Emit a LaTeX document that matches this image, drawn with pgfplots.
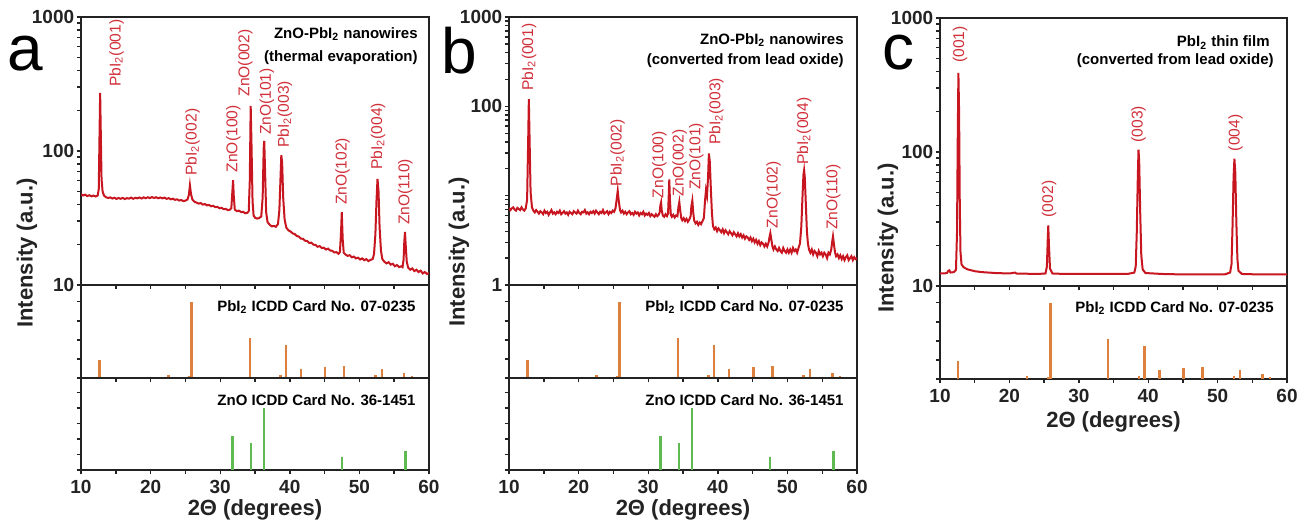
\documentclass[border=0pt]{standalone}
\usepackage{fontspec}
\setmainfont{Liberation Sans}
\usepackage{pgfplots}
\pgfplotsset{compat=1.18}

\definecolor{xrdred}{RGB}{200,22,32}
\definecolor{lblred}{RGB}{208,48,58}
\definecolor{pbiorange}{RGB}{222,128,62}
\definecolor{znogreen}{RGB}{96,186,82}
\definecolor{axgray}{RGB}{35,35,35}

\newcommand{\tk}{\fontsize{9.5}{10}\selectfont\bfseries}
\newcommand{\ann}{\fontsize{7.5}{9}\selectfont\bfseries}
\newcommand{\axlab}{\fontsize{11}{12}\selectfont\bfseries}

\pgfplotsset{
  xrdbase/.style={
    scale only axis, anchor=north west, xmin=10, xmax=60,
    xtick={10,20,...,60}, minor x tick num=1, xticklabels={},
    tick align=outside, xtick pos=left, ytick pos=left,
    axis line style={line width=0.8pt, axgray},
    tick style={line width=0.7pt, axgray},
    major tick length=2.2pt, minor tick length=1.8pt,
    ticklabel style={font=\tk, text=axgray},
    /pgf/number format/assume math mode=true,
    yticklabel style={inner sep=1pt},
    xticklabel style={inner sep=2.5pt},
    clip mode=individual,
  },
  xrdstick/.style={xrdbase, ymin=0, yticklabels={}},
}
\tikzset{
  pk/.style={rotate=90, anchor=west, inner sep=0pt, text=lblred,
    font=\fontsize{7.8}{8}\selectfont},
  letter/.style={anchor=base west, inner sep=0pt, font=\fontsize{32}{32}\selectfont},
}

\begin{document}
\begin{tikzpicture}[x=1pt,y=1pt]
\useasboundingbox (0,0) rectangle (652,-262.5);

% ---------------- panel a ----------------
\begin{axis}[xrdbase, ymode=log, at={(40.5pt,-8.5pt)}, width=174pt, height=134pt,
  ymin=10, ymax=1000, ytick={10,100,1000}, yticklabels={10,100,1000},
  minor ytick={20,30,40,50,60,70,80,90,200,300,400,500,600,700,800,900}]
\addplot[xrdred, line width=1pt] coordinates {
(10.0,47.5) (10.3,46.6) (10.6,47.2) (10.9,46.1) (11.2,46.8) (11.5,45.9) (11.8,46.5) (12.1,45.8) (12.4,46.6)
(12.55,52) (12.65,120) (12.75,271) (12.85,130) (12.95,62) (13.1,50) (13.3,46.5) (13.6,45.2) (13.9,44.6)
(14.2,45.1) (14.5,44.2) (14.8,44.8) (15.1,43.9) (15.4,44.6) (15.7,44.0) (16.0,44.7) (16.3,43.8) (16.6,44.5)
(16.9,44.1) (17.2,44.9) (17.5,44.0) (17.8,44.8) (18.1,44.3) (18.4,45.0) (18.7,44.2) (19.0,45.1) (19.3,44.4)
(19.6,45.2) (19.9,44.5) (20.2,45.3) (20.5,44.6) (20.8,45.2) (21.1,44.4) (21.4,45.0) (21.7,44.3) (22.0,44.9)
(22.3,43.9) (22.6,44.5) (22.9,43.6) (23.2,44.1) (23.5,43.2) (23.8,43.6) (24.1,42.7) (24.4,43.1) (24.7,42.3)
(25.0,42.6) (25.3,43.5) (25.5,47) (25.65,55.5) (25.8,48) (26.0,43.5) (26.3,41.8) (26.6,41.2) (26.9,40.5)
(27.2,40.9) (27.5,39.8) (27.8,40.2) (28.1,39.3) (28.4,39.6) (28.7,38.7) (29.0,39.0) (29.3,38.1) (29.6,38.3)
(29.9,37.4) (30.2,37.7) (30.5,36.8) (30.8,37.0) (31.1,36.2) (31.4,36.5) (31.6,37.5) (31.75,50) (31.85,60.5)
(31.95,46) (32.1,36.5) (32.4,35.6) (32.7,35.9) (33.0,35.0) (33.3,35.2) (33.6,34.3) (33.9,34.6) (34.1,35.5)
(34.25,60) (34.38,217) (34.5,110) (34.65,42) (34.8,33) (35.0,31.8) (35.3,31.3) (35.6,31.6) (35.9,32.5)
(36.1,45) (36.25,105) (36.33,119) (36.45,70) (36.6,35) (36.8,29.5) (37.1,28.2) (37.4,27.4) (37.7,27.6)
(38.0,27.2) (38.3,28.5) (38.5,36) (38.65,60) (38.78,93) (38.9,82) (39.05,45) (39.25,31) (39.5,26.8)
(39.8,25.6) (40.1,25.1) (40.4,24.3) (40.7,24.0) (41.0,23.2) (41.3,23.0) (41.6,22.2) (41.9,22.1) (42.2,21.4)
(42.5,21.3) (42.8,20.6) (43.1,20.7) (43.4,20.0) (43.7,19.9) (44.0,19.3) (44.3,19.5) (44.6,18.9) (44.9,19.0)
(45.2,18.4) (45.5,18.7) (45.8,18.1) (46.1,18.0) (46.4,17.5) (46.7,17.6) (47.0,17.1) (47.2,17.6) (47.35,24)
(47.47,35) (47.6,22) (47.75,17.4) (48.0,16.9) (48.3,16.5) (48.6,16.7) (48.9,16.1) (49.2,16.3) (49.5,15.8)
(49.8,16.0) (50.1,15.5) (50.4,15.8) (50.7,15.3) (51.0,15.6) (51.3,15.1) (51.6,15.4) (51.9,15.6) (52.1,17)
(52.3,24) (52.45,42) (52.6,61.8) (52.75,50) (52.9,27) (53.1,18) (53.3,15.6) (53.6,14.9) (53.9,14.5)
(54.2,14.8) (54.5,14.2) (54.8,14.4) (55.1,13.8) (55.4,14.1) (55.7,13.6) (56.0,13.8) (56.2,13.6) (56.35,15.5)
(56.45,21) (56.55,24.9) (56.65,20) (56.8,15) (57.0,13.5) (57.3,13.0) (57.6,13.3) (57.9,12.7) (58.2,13.0)
(58.5,12.5) (58.8,12.8) (59.1,12.2) (59.4,12.5) (59.7,12.1) (60.0,12.3)
};
\node[pk] at (axis cs:15.1,300) {PbI\textsubscript{2}(001)};
\node[pk] at (axis cs:26.05,65) {PbI\textsubscript{2}(002)};
\node[pk] at (axis cs:31.9,69) {ZnO(100)};
\node[pk] at (axis cs:33.6,254) {ZnO(002)};
\node[pk] at (axis cs:36.7,131) {ZnO(101)};
\node[pk] at (axis cs:39.3,105) {PbI\textsubscript{2}(003)};
\node[pk] at (axis cs:47.6,39.5) {ZnO(102)};
\node[pk] at (axis cs:52.7,72) {PbI\textsubscript{2}(004)};
\node[pk] at (axis cs:56.6,28) {ZnO(110)};
\node[anchor=base east, inner sep=0pt, font=\ann] at ([xshift=-5.5pt,yshift=-10.5pt]rel axis cs:1,1) {ZnO-PbI\textsubscript{2} nanowires};
\node[anchor=base east, inner sep=0pt, font=\ann] at ([xshift=-5.5pt,yshift=-22pt]rel axis cs:1,1) {(thermal evaporation)};
\end{axis}

\begin{axis}[xrdstick, at={(40.5pt,-142.5pt)}, width=174pt, height=46.5pt,
  ymax=122, ytick={0,25,50,75,100}]
\addplot[ycomb, pbiorange, line width=1.2pt] coordinates {
(12.63,23) (22.55,4) (25.56,3) (25.9,100) (34.24,53) (38.64,4) (39.45,43) (41.65,12)
(45.1,14) (47.83,16) (52.34,4) (53.25,12) (56.45,6) (57.56,2)
};
\node[anchor=east, inner sep=0pt, font=\ann] at ([xshift=-6.5pt,yshift=-11pt]rel axis cs:1,1) {PbI\textsubscript{2} ICDD Card No. 07-0235};
\end{axis}

\begin{axis}[xrdstick, at={(40.5pt,-189pt)}, width=174pt, height=46pt,
  ymax=148, ytick={0,25,...,125}, xticklabels={10,20,30,40,50,60}]
\addplot[ycomb, znogreen, line width=1.2pt] coordinates {
(31.79,55) (34.43,43) (36.25,100) (47.46,21) (56.6,30)
};
\node[anchor=east, inner sep=0pt, font=\ann] at ([xshift=-6.5pt,yshift=-11pt]rel axis cs:1,1) {ZnO ICDD Card No. 36-1451};
\end{axis}

% ---------------- panel b ----------------
\begin{axis}[xrdbase, ymode=log, at={(254.5pt,-8.5pt)}, width=174pt, height=134pt,
  ymin=1, ymax=1000, ytick={1,100,1000}, yticklabels={1,100,1000},
  minor ytick={2,3,4,5,6,7,8,9,10,20,30,40,50,60,70,80,90,200,300,400,500,600,700,800,900}]
\addplot[xrdred, line width=1pt] coordinates {
(10.0,7.3) (10.2,6.9) (10.4,7.2) (10.6,7.4) (10.8,7.0) (11.0,6.8) (11.2,7.3) (11.4,7.1) (11.6,6.9)
(11.8,7.4) (12.0,7.0) (12.2,6.8) (12.4,7.2) (12.6,9) (12.75,40) (12.85,120) (12.95,45) (13.1,11)
(13.3,7.4) (13.5,6.8) (13.7,6.5) (13.9,6.9) (14.1,6.6) (14.3,6.3) (14.5,6.7) (14.7,6.5) (14.9,6.2)
(15.1,6.8) (15.3,6.4) (15.5,6.6) (15.7,6.1) (15.9,6.5) (16.1,6.9) (16.3,6.3) (16.5,6.5) (16.7,6.2)
(16.9,6.6) (17.1,6.4) (17.3,6.8) (17.5,6.2) (17.7,6.4) (17.9,6.7) (18.1,6.3) (18.3,6.5) (18.5,6.1)
(18.7,6.6) (18.9,6.4) (19.1,6.2) (19.3,6.7) (19.5,6.5) (19.7,6.3) (19.9,6.8) (20.1,6.4) (20.3,6.2)
(20.5,6.6) (20.7,6.5) (20.9,6.9) (21.1,6.3) (21.3,6.5) (21.5,6.2) (21.7,6.6) (21.9,6.4) (22.1,6.7)
(22.3,6.3) (22.5,6.8) (22.7,6.5) (22.9,6.2) (23.1,6.6) (23.3,6.4) (23.5,6.9) (23.7,6.3) (23.9,6.5)
(24.1,6.7) (24.3,6.2) (24.5,6.6) (24.7,6.4) (24.9,6.8) (25.1,6.6) (25.3,7.2) (25.5,9.5) (25.62,11.3)
(25.75,9) (25.95,6.9) (26.1,6.5) (26.3,6.8) (26.5,6.3) (26.7,6.6) (26.9,6.2) (27.1,6.5) (27.3,6.7)
(27.5,6.2) (27.7,6.4) (27.9,6.1) (28.1,6.6) (28.3,6.3) (28.5,6.5) (28.7,6.0) (28.9,6.4) (29.1,6.2)
(29.3,6.6) (29.5,6.0) (29.7,6.3) (29.9,6.1) (30.1,6.4) (30.3,5.9) (30.5,6.2) (30.7,6.0) (30.9,5.8)
(31.1,6.2) (31.3,5.9) (31.5,6.1) (31.65,6.5) (31.75,7.8) (31.85,8.4) (31.95,6.8) (32.1,6.0) (32.3,5.8)
(32.5,6.2) (32.7,5.9) (32.85,6.3) (32.95,10) (33.03,15.2) (33.12,9) (33.25,6.1) (33.4,5.8) (33.6,6.1)
(33.8,5.7) (34.0,6.0) (34.2,5.9) (34.35,7.5) (34.47,8.5) (34.6,6.8) (34.75,5.6) (34.9,5.3) (35.1,5.6)
(35.3,5.2) (35.5,5.5) (35.7,5.1) (35.9,5.4) (36.1,5.9) (36.2,7.6) (36.34,8.8) (36.47,6.5) (36.6,5.3)
(36.8,4.9) (37.0,5.1) (37.2,4.7) (37.4,5.0) (37.6,4.8) (37.8,5.2) (38.0,5.6) (38.15,8.5) (38.3,11.5)
(38.45,10) (38.6,16) (38.72,29.7) (38.85,24) (39.0,12) (39.15,6.5) (39.3,4.6) (39.5,4.2) (39.7,4.4)
(39.9,4.0) (40.1,4.3) (40.3,4.1) (40.5,3.9) (40.7,4.2) (40.9,3.8) (41.1,4.1) (41.3,3.9) (41.5,3.7)
(41.7,4.0) (41.9,3.8) (42.1,3.6) (42.3,3.9) (42.5,3.7) (42.7,3.5) (42.9,3.8) (43.1,3.5) (43.3,3.7)
(43.5,3.4) (43.7,3.6) (43.9,3.3) (44.1,3.5) (44.3,3.4) (44.5,3.2) (44.7,3.4) (44.9,3.1) (45.1,3.3)
(45.3,3.0) (45.5,3.2) (45.7,2.9) (45.9,3.1) (46.1,2.8) (46.3,3.0) (46.5,2.9) (46.7,2.7) (46.9,2.9)
(47.1,2.7) (47.3,3.0) (47.45,3.5) (47.55,3.8) (47.7,3.2) (47.85,2.7) (48.0,2.5) (48.2,2.7) (48.4,2.5)
(48.6,2.4) (48.8,2.6) (49.0,2.4) (49.2,2.3) (49.4,2.6) (49.6,2.4) (49.8,2.3) (50.0,2.5) (50.2,2.3)
(50.4,2.5) (50.6,2.3) (50.8,2.6) (51.0,2.4) (51.2,2.5) (51.4,2.3) (51.6,2.6) (51.8,2.9) (52.0,4.5)
(52.15,9) (52.3,17) (52.4,19.3) (52.5,16) (52.65,8) (52.8,4) (52.95,2.9) (53.1,2.5) (53.3,2.3)
(53.5,2.5) (53.7,2.2) (53.9,2.4) (54.1,2.3) (54.3,2.1) (54.5,2.4) (54.7,2.2) (54.9,2.3) (55.1,2.1)
(55.3,2.3) (55.5,2.2) (55.7,2.0) (55.9,2.3) (56.1,2.2) (56.3,2.5) (56.45,3.1) (56.55,3.5) (56.7,2.8)
(56.85,2.3) (57.0,2.1) (57.2,2.2) (57.4,2.0) (57.6,2.15) (57.8,1.95) (58.0,2.1) (58.2,1.9) (58.4,2.05)
(58.6,2.15) (58.8,1.9) (59.0,2.0) (59.2,2.1) (59.4,1.9) (59.6,2.05) (59.8,1.95) (60.0,2.0)
};
\node[pk] at (axis cs:12.9,149) {PbI\textsubscript{2}(001)};
\node[pk] at (axis cs:25.6,12.6) {PbI\textsubscript{2}(002)};
\node[pk] at (axis cs:31.6,9.3) {ZnO(100)};
\node[pk] at (axis cs:34.5,9.7) {ZnO(002)};
\node[pk] at (axis cs:36.9,11.5) {ZnO(101)};
\node[pk] at (axis cs:39.8,36.8) {PbI\textsubscript{2}(003)};
\node[pk] at (axis cs:48.0,4.3) {ZnO(102)};
\node[pk] at (axis cs:52.4,22) {PbI\textsubscript{2}(004)};
\node[pk] at (axis cs:56.6,4.1) {ZnO(110)};
\node[anchor=base east, inner sep=0pt, font=\ann] at ([xshift=-6.5pt,yshift=-13.5pt]rel axis cs:1,1) {ZnO-PbI\textsubscript{2} nanowires};
\node[anchor=base east, inner sep=0pt, font=\ann] at ([xshift=-6.5pt,yshift=-23.5pt]rel axis cs:1,1) {(converted from lead oxide)};
\end{axis}

\begin{axis}[xrdstick, at={(254.5pt,-142.5pt)}, width=174pt, height=46.5pt,
  ymax=122, ytick={0,25,50,75,100}]
\addplot[ycomb, pbiorange, line width=1.2pt] coordinates {
(12.63,23) (22.55,4) (25.56,3) (25.9,100) (34.24,53) (38.64,4) (39.45,43) (41.65,12)
(45.1,14) (47.83,16) (52.34,4) (53.25,12) (56.45,6) (57.56,2)
};
\node[anchor=east, inner sep=0pt, font=\ann] at ([xshift=-6.5pt,yshift=-11pt]rel axis cs:1,1) {PbI\textsubscript{2} ICDD Card No. 07-0235};
\end{axis}

\begin{axis}[xrdstick, at={(254.5pt,-189pt)}, width=174pt, height=46pt,
  ymax=148, ytick={0,25,...,125}, xticklabels={10,20,30,40,50,60}]
\addplot[ycomb, znogreen, line width=1.2pt] coordinates {
(31.79,55) (34.43,43) (36.25,100) (47.46,21) (56.6,30)
};
\node[anchor=east, inner sep=0pt, font=\ann] at ([xshift=-6.5pt,yshift=-11pt]rel axis cs:1,1) {ZnO ICDD Card No. 36-1451};
\end{axis}

% ---------------- panel c ----------------
\begin{axis}[xrdbase, ymode=log, at={(470pt,-9pt)}, width=173.5pt, height=134pt,
  ymin=10, ymax=1000, ytick={10,100,1000}, yticklabels={10,100,1000},
  minor ytick={20,30,40,50,60,70,80,90,200,300,400,500,600,700,800,900}]
\addplot[xrdred, line width=1pt] coordinates {
(10.0,12.4) (10.5,12.4) (11.0,12.5) (11.2,13.0) (11.35,13.1) (11.5,12.6) (12.0,12.7) (12.3,13.2)
(12.45,25) (12.55,120) (12.65,389) (12.75,200) (12.85,40) (12.95,18) (13.1,14.5) (13.4,13.8)
(14,13.3) (15,12.9) (16,12.7) (18,12.5) (20,12.4) (20.8,12.6) (21,12.4) (24,12.3) (25.2,12.4)
(25.4,14) (25.52,22) (25.6,28.3) (25.7,20) (25.85,13.5) (26.2,12.4) (28,12.3) (32,12.3) (35,12.3)
(37,12.3) (38.0,12.6) (38.2,14) (38.35,25) (38.5,65) (38.6,104) (38.7,85) (38.85,35) (39.0,17)
(39.2,13.3) (39.6,12.5) (42,12.3) (45,12.2) (48,12.2) (51,12.2) (51.8,12.6) (52.0,14.5) (52.15,28)
(52.3,65) (52.42,89) (52.55,70) (52.7,30) (52.85,16) (53.0,13) (53.5,12.3) (56,12.2) (60,12.2)
};
\node[pk] at (axis cs:12.9,462) {(001)};
\node[pk] at (axis cs:25.7,32.4) {(002)};
\node[pk] at (axis cs:38.6,117) {(003)};
\node[pk] at (axis cs:52.6,101) {(004)};
\node[anchor=base east, inner sep=0pt, font=\ann] at ([xshift=-8.5pt,yshift=-14.5pt]rel axis cs:1,1) {PbI\textsubscript{2} thin film};
\node[anchor=base east, inner sep=0pt, font=\ann] at ([xshift=-6.5pt,yshift=-23.5pt]rel axis cs:1,1) {(converted from lead oxide)};
\end{axis}

\begin{axis}[xrdstick, at={(470pt,-143pt)}, width=173.5pt, height=46.5pt,
  ymax=122, ytick={0,25,50,75,100}, xticklabels={10,20,30,40,50,60}]
\addplot[ycomb, pbiorange, line width=1.2pt] coordinates {
(12.63,23) (22.55,4) (25.56,3) (25.9,100) (34.24,53) (38.64,4) (39.45,43) (41.65,12)
(45.1,14) (47.83,16) (52.34,4) (53.25,12) (56.45,6) (57.56,2)
};
\node[anchor=east, inner sep=0pt, font=\ann] at ([xshift=-6.5pt,yshift=-11pt]rel axis cs:1,1) {PbI\textsubscript{2} ICDD Card No. 07-0235};
\end{axis}

% axis titles and panel letters
\node[font=\axlab, text=axgray] at (127.5,-255) {2Θ (degrees)};
\node[font=\axlab, text=axgray] at (341.5,-255) {2Θ (degrees)};
\node[font=\axlab, text=axgray] at (556.75,-211) {2Θ (degrees)};
\node[font=\axlab, text=axgray, rotate=90] at (13.5,-126.5) {Intensity (a.u.)};
\node[font=\axlab, text=axgray, rotate=90] at (229.5,-126) {Intensity (a.u.)};
\node[font=\axlab, text=axgray, rotate=90] at (444,-119) {Intensity (a.u.)};
\node[letter, text height=0.53em, text depth=0pt] at (3.5,-35) {a};
\node[letter, text height=0.73em, text depth=0pt] at (220.5,-36.5) {b};
\node[letter, text height=0.53em, text depth=0pt] at (441,-34.5) {c};
\end{tikzpicture}
\end{document}
